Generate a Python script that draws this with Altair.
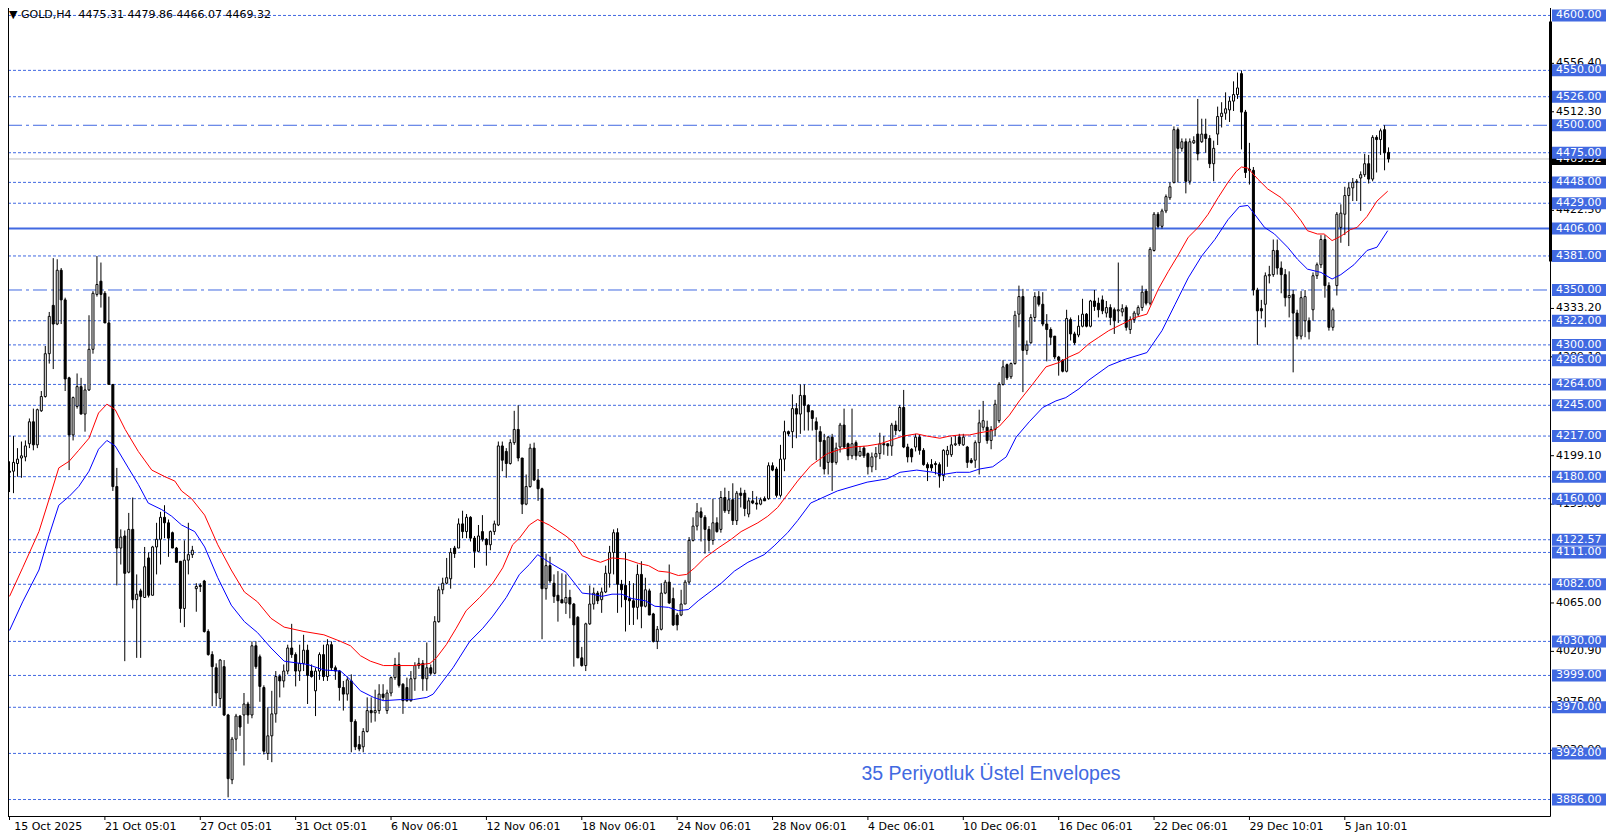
import altair as alt
import pandas as pd

# ---------------- data ----------------
opens = [
    4185, 4185, 4192, 4197, 4198, 4210, 4230, 4209, 4240, 4253,
    4292, 4336, 4319, 4368, 4341, 4270, 4218, 4244, 4262, 4237,
    4259, 4296, 4346, 4358, 4347, 4320, 4264, 4171, 4115, 4126,
    4093, 4132, 4068, 4076, 4070, 4106, 4072, 4116, 4123, 4143,
    4138, 4129, 4115, 4103, 4060, 4104, 4109, 4078, 4081, 4085,
    4039, 4018, 4006, 3978, 4007, 3963, 3904, 3941, 3962, 3963,
    3973, 3963, 4026, 4016, 3988, 3928, 3944, 3964, 3998, 3994,
    4003, 4024, 4018, 4003, 4010, 4022, 4003, 3985, 4003, 4018,
    3998, 4027, 4006, 4003, 3988, 3982, 3994, 3957, 3936, 3934,
    3948, 3967, 3965, 3967, 3982, 3967, 3983, 3997, 4009, 3991,
    3988, 3976, 3996, 4008, 4010, 3996, 4006, 4001, 4048, 4077,
    4083, 4087, 4115, 4115, 4137, 4130, 4143, 4124, 4112, 4130,
    4123, 4118, 4130, 4136, 4208, 4203, 4192, 4211, 4223, 4197,
    4155, 4171, 4206, 4177, 4169, 4078, 4099, 4083, 4072, 4068,
    4065, 4070, 4064, 4052, 4015, 4008, 4046, 4064, 4074, 4068,
    4075, 4092, 4111, 4129, 4082, 4081, 4069, 4067, 4061, 4091,
    4062, 4076, 4055, 4030, 4041, 4074, 4084, 4069, 4054, 4054,
    4064, 4084, 4122, 4135, 4148, 4143, 4132, 4122, 4138, 4132,
    4161, 4149, 4159, 4140, 4165, 4165, 4146, 4158, 4156, 4155,
    4160, 4160, 4190, 4187, 4163, 4196, 4221, 4221, 4242, 4237,
    4254, 4245, 4240, 4230, 4221, 4213, 4193, 4216, 4193, 4207,
    4227, 4210, 4199, 4211, 4199, 4206, 4201, 4189, 4198, 4201,
    4210, 4210, 4208, 4227, 4222, 4243, 4207, 4205, 4207, 4216,
    4204, 4191, 4191, 4192, 4191, 4181, 4200, 4200, 4209, 4216,
    4209, 4207, 4195, 4195, 4211, 4225, 4225, 4213, 4223, 4231,
    4264, 4282, 4271, 4283, 4328, 4344, 4295, 4302, 4325, 4344,
    4337, 4319, 4314, 4308, 4289, 4286, 4276, 4323, 4310, 4309,
    4317, 4328, 4317, 4340, 4338, 4341, 4329, 4334, 4332, 4331,
    4330, 4334, 4314, 4323, 4328, 4334, 4349, 4338, 4386, 4419,
    4408, 4422, 4434, 4448, 4496, 4479, 4485, 4449, 4484, 4492,
    4485, 4492, 4488, 4465, 4492, 4508, 4511, 4514, 4522, 4528,
    4547, 4512, 4460, 4459, 4350, 4333, 4337, 4363, 4364, 4386,
    4370, 4364, 4343, 4346, 4329, 4308, 4322, 4322, 4332, 4363,
    4373, 4396, 4354, 4316, 4354, 4407, 4419, 4436, 4443, 4448,
    4452, 4455, 4465, 4451, 4489, 4487, 4496, 4475.31,
]
highs = [
    4194, 4217, 4206, 4212, 4213, 4233, 4242, 4242, 4258, 4299,
    4330, 4379, 4378, 4370, 4343, 4271, 4253, 4274, 4270, 4264,
    4327, 4349, 4381, 4375, 4349, 4344, 4264, 4188, 4132, 4131,
    4147, 4161, 4091, 4078, 4116, 4111, 4117, 4138, 4148, 4154,
    4141, 4130, 4116, 4103, 4122, 4138, 4117, 4083, 4083, 4086,
    4041, 4021, 4010, 4014, 4013, 3964, 3943, 3964, 3963, 3983,
    3975, 4030, 4030, 4018, 3990, 3970, 3985, 4003, 4000, 4009,
    4027, 4046, 4020, 4027, 4036, 4027, 4009, 4006, 4020, 4027,
    4032, 4030, 4008, 4004, 3994, 3998, 4000, 3959, 3944, 3951,
    3979, 3979, 3986, 3991, 3991, 3986, 3998, 4015, 4020, 3992,
    3997, 4003, 4011, 4015, 4013, 4029, 4009, 4053, 4080, 4088,
    4106, 4115, 4117, 4142, 4149, 4146, 4144, 4126, 4136, 4145,
    4124, 4131, 4140, 4212, 4212, 4206, 4214, 4240, 4245, 4197,
    4182, 4210, 4211, 4187, 4170, 4110, 4107, 4091, 4094, 4092,
    4091, 4077, 4065, 4053, 4025, 4047, 4081, 4079, 4076, 4079,
    4099, 4117, 4132, 4133, 4086, 4111, 4085, 4083, 4100, 4103,
    4088, 4078, 4056, 4044, 4083, 4086, 4100, 4079, 4056, 4077,
    4086, 4125, 4143, 4156, 4152, 4145, 4135, 4160, 4143, 4167,
    4170, 4167, 4174, 4167, 4170, 4168, 4161, 4167, 4162, 4161,
    4162, 4193, 4193, 4189, 4209, 4231, 4222, 4255, 4247, 4264,
    4264, 4246, 4240, 4234, 4226, 4219, 4217, 4219, 4211, 4229,
    4242, 4211, 4242, 4213, 4208, 4208, 4202, 4202, 4207, 4220,
    4217, 4210, 4229, 4231, 4245, 4259, 4210, 4206, 4219, 4218,
    4206, 4193, 4196, 4194, 4193, 4205, 4208, 4216, 4217, 4219,
    4219, 4208, 4197, 4213, 4241, 4249, 4231, 4226, 4250, 4266,
    4286, 4283, 4284, 4331, 4354, 4351, 4304, 4328, 4348, 4349,
    4348, 4328, 4316, 4308, 4290, 4287, 4332, 4325, 4312, 4327,
    4342, 4329, 4341, 4350, 4343, 4345, 4340, 4337, 4334, 4375,
    4337, 4336, 4326, 4331, 4336, 4354, 4351, 4389, 4421, 4421,
    4424, 4437, 4448, 4499, 4498, 4488, 4488, 4488, 4490, 4524,
    4506, 4506, 4491, 4486, 4517, 4521, 4530, 4526, 4540, 4548,
    4550, 4514, 4484, 4462, 4352, 4341, 4366, 4372, 4396, 4396,
    4376, 4369, 4367, 4350, 4332, 4349, 4350, 4325, 4366, 4375,
    4400, 4400, 4357, 4334, 4421, 4428, 4444, 4448, 4452, 4451,
    4458, 4474, 4473, 4491, 4491, 4497, 4500, 4479.86,
]
lows = [
    4166, 4165, 4180, 4179, 4194, 4206, 4204, 4206, 4239, 4252,
    4283, 4278, 4318, 4319, 4258, 4186, 4213, 4242, 4237, 4221,
    4258, 4292, 4344, 4334, 4320, 4264, 4167, 4081, 4100, 4012,
    4092, 4060, 4015, 4015, 4070, 4070, 4072, 4091, 4100, 4124,
    4107, 4115, 4102, 4047, 4043, 4091, 4106, 4057, 4075, 4038,
    4017, 3971, 3971, 3970, 3962, 3888, 3900, 3930, 3944, 3917,
    3955, 3960, 4005, 3975, 3927, 3922, 3920, 3956, 3979, 3988,
    4000, 4015, 3989, 3994, 4003, 3973, 3997, 3962, 3995, 3994,
    3994, 4003, 3995, 3976, 3967, 3976, 3929, 3931, 3930, 3929,
    3947, 3956, 3957, 3964, 3976, 3964, 3980, 3995, 3988, 3964,
    3975, 3975, 3985, 4005, 3985, 3985, 3999, 4000, 4047, 4073,
    4082, 4078, 4106, 4115, 4124, 4124, 4121, 4097, 4112, 4121,
    4099, 4113, 4127, 4135, 4185, 4179, 4191, 4209, 4194, 4146,
    4154, 4170, 4176, 4158, 4032, 4068, 4083, 4065, 4048, 4065,
    4055, 4051, 4007, 4015, 4007, 4003, 4045, 4059, 4064, 4056,
    4074, 4079, 4091, 4056, 4061, 4039, 4045, 4045, 4050, 4042,
    4061, 4054, 4029, 4023, 4040, 4073, 4064, 4044, 4040, 4053,
    4064, 4082, 4121, 4131, 4121, 4110, 4112, 4118, 4129, 4129,
    4147, 4146, 4136, 4136, 4152, 4144, 4143, 4155, 4150, 4154,
    4158, 4159, 4185, 4161, 4161, 4185, 4217, 4206, 4215, 4219,
    4222, 4222, 4222, 4195, 4189, 4182, 4182, 4167, 4191, 4202,
    4206, 4195, 4196, 4195, 4198, 4197, 4182, 4184, 4186, 4196,
    4200, 4199, 4199, 4218, 4221, 4206, 4193, 4193, 4203, 4200,
    4190, 4176, 4185, 4182, 4170, 4176, 4189, 4198, 4208, 4208,
    4208, 4188, 4192, 4188, 4182, 4222, 4210, 4205, 4217, 4229,
    4263, 4268, 4269, 4282, 4316, 4257, 4291, 4301, 4321, 4335,
    4317, 4285, 4300, 4287, 4272, 4275, 4275, 4304, 4300, 4307,
    4316, 4316, 4316, 4331, 4325, 4328, 4325, 4318, 4310, 4320,
    4326, 4313, 4310, 4320, 4326, 4331, 4336, 4336, 4385, 4406,
    4406, 4420, 4432, 4447, 4448, 4476, 4438, 4446, 4483, 4468,
    4484, 4475, 4461, 4449, 4482, 4498, 4505, 4503, 4513, 4524,
    4478, 4452, 4446, 4345, 4300, 4324, 4316, 4356, 4362, 4364,
    4347, 4335, 4325, 4275, 4305, 4305, 4307, 4305, 4322, 4360,
    4370, 4343, 4313, 4313, 4345, 4393, 4400, 4390, 4431, 4431,
    4422, 4453, 4447, 4449, 4457, 4473, 4459, 4466.07,
]
closes = [
    4184, 4193, 4196, 4199, 4208, 4230, 4209, 4241, 4253, 4292,
    4326, 4319, 4368, 4341, 4269, 4218, 4252, 4262, 4237, 4259,
    4296, 4347, 4355, 4346, 4320, 4264, 4171, 4115, 4125, 4092,
    4132, 4068, 4073, 4071, 4098, 4072, 4116, 4123, 4143, 4138,
    4124, 4115, 4102, 4060, 4104, 4109, 4113, 4080, 4080, 4039,
    4018, 4007, 3983, 4013, 3963, 3905, 3941, 3962, 3952, 3973,
    3963, 4026, 4007, 3989, 3930, 3944, 3964, 3998, 3994, 4003,
    4024, 4018, 4003, 4010, 4022, 3999, 3998, 4003, 4018, 3998,
    4027, 4006, 4003, 3988, 3982, 3995, 3957, 3934, 3932, 3948,
    3967, 3965, 3967, 3982, 3979, 3983, 3997, 4009, 3990, 3976,
    3976, 3996, 4008, 4010, 3996, 4006, 4001, 4048, 4077, 4083,
    4088, 4111, 4110, 4137, 4130, 4143, 4124, 4112, 4126, 4123,
    4118, 4130, 4137, 4208, 4195, 4192, 4211, 4223, 4197, 4155,
    4171, 4206, 4177, 4169, 4078, 4099, 4085, 4071, 4067, 4065,
    4070, 4064, 4045, 4015, 4008, 4046, 4064, 4074, 4067, 4075,
    4092, 4111, 4129, 4082, 4077, 4068, 4067, 4061, 4091, 4062,
    4077, 4054, 4030, 4041, 4074, 4084, 4065, 4045, 4045, 4064,
    4084, 4122, 4135, 4148, 4143, 4132, 4122, 4138, 4130, 4161,
    4149, 4159, 4140, 4165, 4163, 4151, 4158, 4156, 4155, 4159,
    4158, 4190, 4186, 4163, 4196, 4221, 4219, 4242, 4237, 4254,
    4245, 4239, 4233, 4223, 4212, 4187, 4216, 4193, 4206, 4227,
    4207, 4199, 4210, 4199, 4203, 4199, 4189, 4198, 4201, 4210,
    4209, 4208, 4227, 4222, 4243, 4207, 4198, 4198, 4216, 4204,
    4191, 4188, 4188, 4191, 4181, 4204, 4204, 4209, 4210, 4210,
    4216, 4193, 4193, 4211, 4229, 4231, 4213, 4223, 4246, 4264,
    4280, 4270, 4283, 4327, 4344, 4295, 4300, 4325, 4344, 4337,
    4319, 4314, 4307, 4289, 4286, 4276, 4324, 4310, 4302, 4317,
    4328, 4317, 4340, 4335, 4332, 4331, 4334, 4325, 4322, 4332,
    4333, 4316, 4323, 4329, 4334, 4348, 4338, 4387, 4419, 4408,
    4422, 4435, 4444, 4496, 4479, 4485, 4449, 4485, 4486, 4474,
    4492, 4488, 4465, 4479, 4508, 4511, 4515, 4522, 4528, 4534,
    4512, 4457, 4459, 4350, 4331, 4331, 4363, 4364, 4386, 4370,
    4364, 4343, 4345, 4329, 4308, 4343, 4344, 4312, 4363, 4373,
    4396, 4354, 4316, 4332, 4419, 4420, 4436, 4443, 4448, 4449,
    4455, 4465, 4451, 4489, 4487, 4495, 4475, 4469.32,
]

# 35-period exponential envelopes (bar index, price)
upper_bars = [0, 3.3, 7.4, 10, 12.4, 15, 17.4, 20, 22.4, 24.5,
              26.6, 29.1, 32.4, 35.8, 39.1, 41.6, 43.3, 45.8, 49.1, 52.4,
              55.8, 59.1, 62.4, 65.8, 69.1, 74.1, 79.1, 83.3, 85.8, 88.3,
              90.8, 94.1, 101.6, 105.8, 107.4, 109.9, 112.4, 114.9, 118.3, 121.6,
              124.1, 126.6, 128.3, 130.8, 132.9, 135.8, 140, 142, 144.1, 146.2,
              148.7, 151.6, 155, 158.3, 160.8, 163.3, 165.8, 168.3, 170.4, 172.4,
              174.9, 178.3, 181.6, 184.1, 188.3, 190.8, 193.3, 195.8, 198.3, 201.6,
              205.8, 209.1, 212.4, 215.8, 219.1, 222.4, 224.9, 228.3, 230.8, 234.1,
              236.6, 239.1, 241.6, 244.1, 247.4, 249.1, 251.6, 254.1, 257.4, 260.8,
              264.1, 266.6, 269.1, 271.6, 274.1, 276.6, 280, 283.3, 286.2, 289.1,
              291.6, 294.1, 296.6, 299.1, 301.6, 304.1, 306.6, 308.7, 310, 311.6,
              314.1, 316.6, 320, 322.4, 325, 326.6, 329.1, 330.8, 332.8, 335,
              337.4, 339.1, 341.6, 344.1, 346.8]
upper_vals = [4071, 4097, 4130, 4160, 4188, 4194, 4204, 4215, 4238, 4246,
              4241, 4223, 4203, 4186, 4180, 4176, 4167, 4160, 4145, 4118,
              4095, 4075, 4066, 4051, 4043, 4039, 4036, 4030, 4026, 4017,
              4012, 4008, 4008, 4010, 4015, 4027, 4042, 4058, 4070, 4083,
              4097, 4118, 4124, 4136, 4141, 4136, 4126, 4120, 4108, 4105,
              4102, 4106, 4105, 4101, 4099, 4094, 4093, 4090, 4091, 4097,
              4106, 4115, 4123, 4130, 4138, 4144, 4152, 4164, 4176, 4190,
              4201, 4205, 4207, 4208, 4210, 4214, 4217, 4219, 4217, 4215,
              4217, 4218, 4218, 4220, 4222, 4226, 4236, 4249, 4264, 4280,
              4284, 4289, 4293, 4301, 4307, 4313, 4319, 4325, 4328, 4351,
              4367, 4382, 4398, 4407, 4419, 4434, 4448, 4458, 4462, 4461,
              4451, 4442, 4434, 4425, 4413, 4404, 4401, 4401, 4395, 4399,
              4405, 4407, 4417, 4431, 4440]
lower_bars = [0, 3.3, 7.4, 10, 12.4, 15, 17.4, 20, 22.4, 24.5,
              26.6, 29.9, 32.4, 34.9, 38.3, 40.8, 43.3, 46.6, 49.1, 52.4,
              55.8, 59.1, 62.4, 65.8, 69.1, 75, 79.1, 83.3, 85.8, 88.3,
              91.6, 94.1, 98.3, 101.6, 105, 106.6, 109.1, 111.6, 115.8, 119.1,
              121.6, 125, 128.3, 130.8, 132.9, 135.8, 140, 142.4, 144.1, 146.6,
              149.1, 151.6, 154.1, 156.6, 160, 162.4, 165.8, 168.3, 170.8, 173.3,
              176.6, 179.1, 182.4, 185.8, 189.9, 192.4, 195.8, 198.3, 201.6, 208.3,
              215.8, 220.8, 224.1, 228.3, 232.4, 234.9, 238.3, 241.6, 244.1, 247.4,
              250.8, 253.3, 256.6, 260, 263.3, 265.8, 269.1, 271.6, 276.6, 280.8,
              286.2, 290, 293.3, 296.6, 300, 303.3, 306.6, 309.5, 311.6, 313.3,
              315.8, 318.3, 321.6, 324.1, 326.6, 330, 332.8, 335, 338.3, 341.6,
              344.1, 346.8]
lower_vals = [4040, 4066, 4095, 4127, 4154, 4162, 4171, 4185, 4205, 4213,
              4208, 4188, 4173, 4156, 4150, 4144, 4136, 4130, 4116, 4088,
              4063, 4048, 4038, 4024, 4012, 4009, 4004, 4003, 3995, 3985,
              3979, 3976, 3977, 3977, 3979, 3982, 3994, 4006, 4030, 4042,
              4053, 4070, 4091, 4100, 4109, 4102, 4093, 4082, 4074, 4073,
              4071, 4073, 4073, 4069, 4067, 4062, 4061, 4058, 4059, 4067,
              4076, 4083, 4094, 4102, 4109, 4117, 4129, 4140, 4156, 4167,
              4175, 4178, 4184, 4186, 4184, 4182, 4184, 4184, 4187, 4189,
              4198, 4216, 4230, 4243, 4249, 4252, 4260, 4268, 4281, 4287,
              4293, 4313, 4337, 4361, 4381, 4396, 4414, 4426, 4427, 4419,
              4407, 4401, 4389, 4378, 4369, 4366, 4360, 4364, 4373, 4386,
              4389, 4404]

level_prices = [4600, 4550, 4526, 4500, 4475, 4448, 4429, 4406, 4381, 4350,
                4322, 4300, 4286, 4264, 4245, 4217, 4180, 4160, 4122.57, 4111,
                4082, 4030, 3999, 3970, 3928, 3886]
level_styles = ["dash", "dash", "dash", "dashdot", "dash", "dash", "dash", "solid", "dash", "dashdot",
                "dash", "dash", "dash", "dash", "dash", "dash", "dash", "dash", "dash", "dash",
                "dash", "dash", "dash", "dash", "dash", "dash"]
axis_ticks = [4556.40, 4512.30, 4422.50, 4333.20, 4289.10, 4199.10, 4155.00,
              4065.00, 4020.90, 3975.00, 3930.90]
bid_price = 4469.32
scroll_range = [4594.5, 4376.0]
date_labels = ["15 Oct 2025", "21 Oct 05:01", "27 Oct 05:01", "31 Oct 05:01", "6 Nov 06:01",
               "12 Nov 06:01", "18 Nov 06:01", "24 Nov 06:01", "28 Nov 06:01", "4 Dec 06:01",
               "10 Dec 06:01", "16 Dec 06:01", "22 Dec 06:01", "29 Dec 10:01", "5 Jan 10:01"]
bars_per_label = 24
title_text = "\u25bc GOLD,H4\u00a0 4475.31 4479.86 4466.07 4469.32"
note_text = "35 Periyotluk \u00dcstel Envelopes"

# ---------------- layout / scales ----------------
W, H = 1542, 808
PAD_R, PAD_B = 56, 22
X_DOM = [0.875, 0.875 + W / 4.0]
Y_DOM = [3871.0, 4606.8]
BLUE = "#4169E1"
FONT = "DejaVu Sans"
BOX = "M-1,-0.2222L1,-0.2222L1,0.2222L-1,0.2222Z"   # 54 x 12 px box
BOX_SIZE = 54 * 54

xs = alt.Scale(domain=X_DOM, nice=False, zero=False)
ys = alt.Scale(domain=Y_DOM, nice=False, zero=False)


def X(f):
    return alt.X(f, type="quantitative", scale=xs, axis=None)


def Y(f):
    return alt.Y(f, type="quantitative", scale=ys, axis=None)


n = len(opens)
candles = pd.DataFrame({"i": list(range(n)), "o": opens, "h": highs, "l": lows, "c": closes})
up_df = pd.DataFrame({"b": upper_bars, "v": upper_vals})
lo_df = pd.DataFrame({"b": lower_bars, "v": lower_vals})
lv = pd.DataFrame({"p": level_prices, "s": level_styles,
                   "lab": [f"{p:.2f}" for p in level_prices]})
ticks_df = pd.DataFrame({"p": axis_ticks, "lab": [f"{p:.2f}" for p in axis_ticks]})
bid_df = pd.DataFrame({"p": [bid_price], "lab": [f"{bid_price:.2f}"]})
scroll_df = pd.DataFrame({"top": [scroll_range[0]], "bot": [scroll_range[1]]})
date_bars = [k * bars_per_label for k in range(len(date_labels))]
dates_df = pd.DataFrame({"b": date_bars,
                         "bl": [max(b, X_DOM[0] + 0.3) for b in date_bars],
                         "lab": date_labels})
one = pd.DataFrame({"t": [title_text], "n": [note_text]})

layers = []

# current bid line (grey)
layers.append(alt.Chart(bid_df).mark_rule(color="#C0C0C0", strokeWidth=1, clip=True).encode(
    y=Y("p"), x=alt.value(0), x2=alt.value(W)))
# horizontal levels
layers.append(alt.Chart(lv[lv.s == "dash"]).mark_rule(
    color=BLUE, strokeWidth=1, strokeDash=[3, 2], clip=True).encode(
    y=Y("p"), x=alt.value(0), x2=alt.value(W)))
layers.append(alt.Chart(lv[lv.s == "dashdot"]).mark_rule(
    color=BLUE, strokeWidth=1, strokeDash=[14, 4, 3, 4], clip=True).encode(
    y=Y("p"), x=alt.value(0), x2=alt.value(W)))
layers.append(alt.Chart(lv[lv.s == "solid"]).mark_rule(
    color=BLUE, strokeWidth=2, clip=True).encode(
    y=Y("p"), x=alt.value(0), x2=alt.value(W)))

# candles
layers.append(alt.Chart(candles).mark_rule(color="black", strokeWidth=1, clip=True).encode(
    x=X("i"), y=Y("l"), y2=alt.Y2("h")))
layers.append(alt.Chart(candles).mark_bar(size=2, stroke="black", strokeWidth=1, clip=True).encode(
    x=X("i"), y=Y("o"), y2=alt.Y2("c"),
    fill=alt.condition("datum.c >= datum.o", alt.value("white"), alt.value("black"))))

# envelopes
layers.append(alt.Chart(up_df).mark_line(color="#FF0000", strokeWidth=1, clip=True).encode(
    x=X("b"), y=Y("v")))
layers.append(alt.Chart(lo_df).mark_line(color="#0000FF", strokeWidth=1, clip=True).encode(
    x=X("b"), y=Y("v")))

# frame
layers.append(alt.Chart(one).mark_rule(color="black", strokeWidth=1).encode(
    x=alt.value(0.5), y=alt.value(0), y2=alt.value(H + 0.5)))
layers.append(alt.Chart(one).mark_rule(color="black", strokeWidth=1).encode(
    x=alt.value(0), x2=alt.value(W + 0.5), y=alt.value(H + 0.5)))
layers.append(alt.Chart(one).mark_rule(color="black", strokeWidth=1).encode(
    x=alt.value(W + 0.5), y=alt.value(0), y2=alt.value(H + 0.5)))
layers.append(alt.Chart(scroll_df).mark_rule(color="black", strokeWidth=3).encode(
    x=alt.value(W + 0.5), y=Y("top"), y2=alt.Y2("bot")))

# right price axis
layers.append(alt.Chart(ticks_df).mark_rule(color="black", strokeWidth=1).encode(
    x=alt.value(W), x2=alt.value(W + 4), y=Y("p")))
layers.append(alt.Chart(ticks_df).mark_text(
    align="left", baseline="middle", font=FONT, fontSize=11, color="black").encode(
    x=alt.value(W + 6), y=Y("p"), text="lab:N"))
# current price box
layers.append(alt.Chart(bid_df).mark_point(
    shape=BOX, size=BOX_SIZE, filled=True, color="black", opacity=1, strokeWidth=0).encode(
    x=alt.value(W + 29), y=Y("p")))
layers.append(alt.Chart(bid_df).mark_text(
    align="left", baseline="middle", font=FONT, fontSize=11, color="white").encode(
    x=alt.value(W + 6), y=Y("p"), text="lab:N"))
# level boxes
layers.append(alt.Chart(lv).mark_point(
    shape=BOX, size=BOX_SIZE, filled=True, color=BLUE, opacity=1, strokeWidth=0).encode(
    x=alt.value(W + 29), y=Y("p")))
layers.append(alt.Chart(lv).mark_text(
    align="left", baseline="middle", font=FONT, fontSize=11, color="white").encode(
    x=alt.value(W + 6), y=Y("p"), text="lab:N"))

# time axis
layers.append(alt.Chart(dates_df).mark_rule(color="black", strokeWidth=1).encode(
    x=X("b"), y=alt.value(H), y2=alt.value(H + 4)))
layers.append(alt.Chart(dates_df).mark_text(
    align="left", baseline="middle", font=FONT, fontSize=11, color="black").encode(
    x=X("bl"), y=alt.value(H + 11), text="lab:N"))

# title and note
layers.append(alt.Chart(one).mark_text(
    align="left", baseline="middle", font=FONT, fontSize=11, color="black").encode(
    x=alt.value(1), y=alt.value(6.5), text="t:N"))
layers.append(alt.Chart(one).mark_text(
    align="center", baseline="middle", font="Liberation Sans", fontSize=19.5, color=BLUE).encode(
    x=alt.value(983), y=alt.value(766), text="n:N"))

chart = alt.layer(*layers).properties(
    width=W, height=H,
    padding={"left": 0, "top": 0, "right": PAD_R, "bottom": PAD_B},
    autosize=alt.AutoSizeParams(type="none"),
    background="white",
).configure_view(stroke=None)

chart.save("out.html", embed_options={"renderer": "svg", "actions": False})
